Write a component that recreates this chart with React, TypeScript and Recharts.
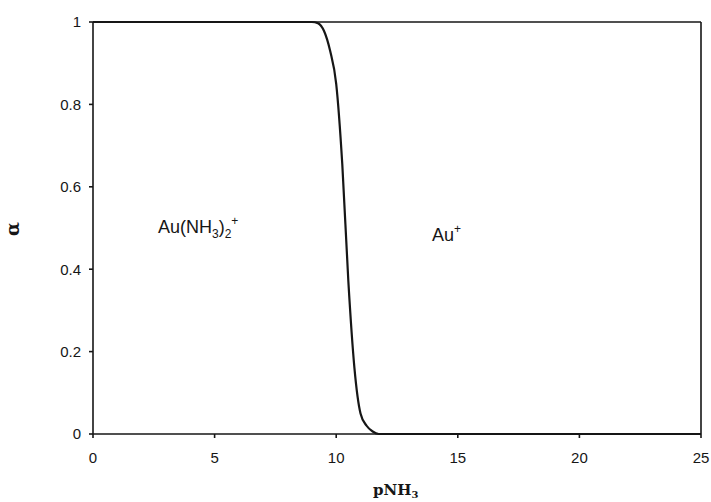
import React from 'react';
import { LineChart, Line, XAxis, YAxis, ReferenceLine, ReferenceDot } from 'recharts';

const pNH3 = [0, 1, 2, 3, 4, 5, 6, 7, 8, 9, 9.25, 9.5, 9.75, 10, 10.25, 10.5, 10.75, 11, 11.25, 11.5, 11.75, 12, 13, 14, 15, 16, 17, 18, 19, 20, 21, 22, 23, 24, 25];
const alpha = [1, 1, 1, 1, 1, 1, 1, 1, 1, 1, 0.997, 0.978, 0.93, 0.85, 0.655, 0.37, 0.16, 0.05, 0.02, 0.006, 0, 0, 0, 0, 0, 0, 0, 0, 0, 0, 0, 0, 0, 0, 0];
const xTicks = [0, 5, 10, 15, 20, 25];
const yTicks = [0, 0.2, 0.4, 0.6, 0.8, 1];

const data = pNH3.map((p, i) => ({ p, a: alpha[i] }));

const FONT = 'Liberation Sans, Arial, sans-serif';
const INK = '#161616';

const complexLabel = (props: any) => (
  <text x={props.cx} y={props.cy} fontFamily={FONT} fontSize={18} fill={INK}>
    Au(NH<tspan fontSize={12} dy={5}>3</tspan>
    <tspan dy={-5}>)</tspan>
    <tspan fontSize={12} dy={5}>2</tspan>
    <tspan fontSize={12} dy={-13}>+</tspan>
  </text>
);

const ionLabel = (props: any) => (
  <text x={props.cx} y={props.cy} fontFamily={FONT} fontSize={18} fill={INK}>
    Au<tspan fontSize={12} dy={-8}>+</tspan>
  </text>
);

export default function App() {
  return (
    <div style={{ position: 'absolute', left: 0, top: 0, background: '#fff' }}>
      <LineChart width={711} height={502} data={data} margin={{ top: 22, right: 10, bottom: 38, left: 0 }}>
        <XAxis
          dataKey="p"
          type="number"
          domain={[0, 25]}
          ticks={xTicks}
          tickSize={4}
          tickMargin={14}
          stroke={INK}
          strokeWidth={1.6}
          tick={{ fill: INK, fontSize: 15, fontFamily: FONT }}
          height={30}
          label={{
            content: (props: any) => {
              const vb = props.viewBox || { x: 0, y: 0 };
              return (
                <text x={vb.x + 280} y={vb.y + 61} fontFamily="DejaVu Serif, serif" fontWeight="bold" fontSize={15} fill={INK}>
                  pNH<tspan fontSize={10} dy={3}>3</tspan>
                </text>
              );
            },
          }}
        />
        <YAxis
          type="number"
          domain={[0, 1]}
          ticks={yTicks}
          tickSize={4}
          tickMargin={8}
          stroke={INK}
          strokeWidth={1.6}
          width={93}
          tick={{ fill: INK, fontSize: 15, fontFamily: FONT }}
          label={{
            content: () => (
              <text x={19} y={229} transform="rotate(-90 19 229)" textAnchor="middle" fontFamily="DejaVu Serif, serif" fontWeight="bold" fontSize={18} fill={INK}>
                α
              </text>
            ),
          }}
        />
        <ReferenceLine y={1} stroke={INK} strokeWidth={1.6} />
        <ReferenceLine x={25} stroke={INK} strokeWidth={1.6} />
        <ReferenceDot x={2.67} y={0.488} r={0} shape={complexLabel} />
        <ReferenceDot x={13.94} y={0.468} r={0} shape={ionLabel} />
        <Line type="monotone" dataKey="a" stroke={INK} strokeWidth={2.2} dot={false} isAnimationActive={false} />
      </LineChart>
    </div>
  );
}
